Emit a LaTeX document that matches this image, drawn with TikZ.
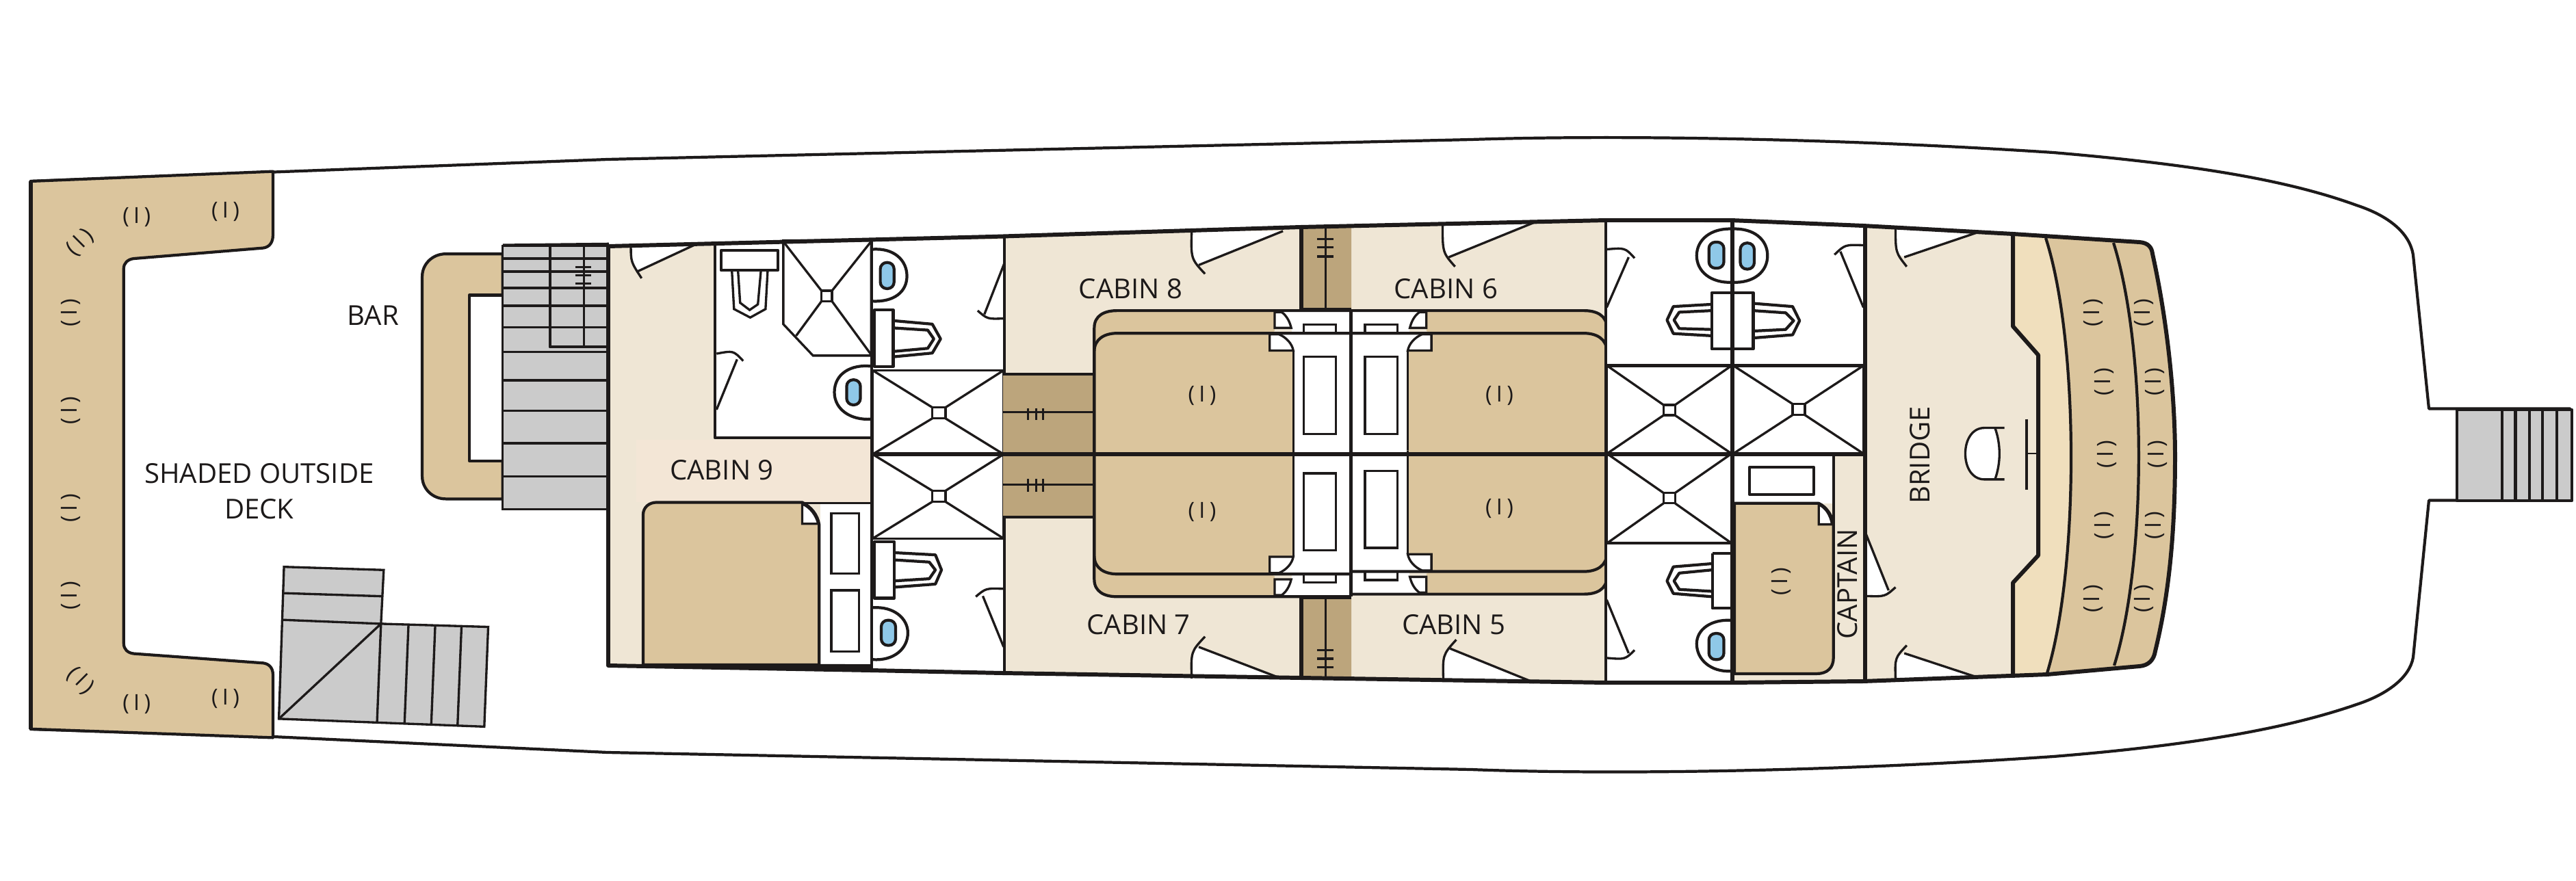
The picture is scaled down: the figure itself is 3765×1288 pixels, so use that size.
\documentclass[tikz,border=0pt]{standalone}
\usepackage{fontspec}
\setmainfont{Open Sans}
\definecolor{decktan}{HTML}{DBC59D}
\definecolor{cream}{HTML}{EFE6D5}
\definecolor{creamb}{HTML}{F3E6D6}
\definecolor{darktan}{HTML}{BCA57C}
\definecolor{stairgray}{HTML}{CBCBCB}
\definecolor{bandlight}{HTML}{F0DFBD}
\definecolor{washblue}{HTML}{8FC8E8}
\definecolor{ink}{HTML}{1D1A1A}
\tikzset{
 fx/.style={draw=ink,line width=.95pt,line join=miter},
 wl/.style={draw=ink,line width=1.2pt,line join=round},
 hv/.style={draw=ink,line width=1.7pt,line join=round},
 z1/.style={x=.005741cm,y=-.005741cm,shift={(0cm,-2cm)}},
 z2/.style={x=.004464cm,y=-.004591cm,shift={(8.5cm,-3cm)}},
 z3/.style={x=.006061cm,y=-.004591cm,shift={(14.5cm,-3cm)}},
 z4/.style={x=.005102cm,y=-.004591cm,shift={(23cm,-3cm)}},
 z5/.style={x=.005198cm,y=-.004591cm,shift={(29.5cm,-3cm)}},
 lab/.style={text=ink,inner sep=0pt,font=\fontsize{11.4}{14.9}\selectfont},
 seatm/.style={text=ink,inner sep=0pt,font=\fontsize{9.2}{9.2}\selectfont},
}
\newcommand\doorw[5]{\fill[white] (#1) .. controls (#2) .. (#4) -- (#5) -- cycle; \draw[fx] (#1) .. controls (#2) .. (#3); \draw[fx] (#4) -- (#5);}
\newcommand\seatat[3]{\node[seatm,rotate=#3] (#1) at (#2) {(\kern1.8pt I\kern1.8pt)};}
\newcommand\showerx[8]{\filldraw[fx,fill=white] (#1,#2) rectangle (#3,#4);
 \draw[fx] (#1,#2) -- (#5,#6) (#3,#2) -- (#7,#6) (#1,#4) -- (#5,#8) (#3,#4) -- (#7,#8);
 \draw[fx] (#5,#6) rectangle (#7,#8);}
\newcommand\bedq{%
 \fill[decktan] (245,792) -- (245,390) .. controls (245,350) and (270,335) .. (300,335) -- (680,335) -- (680,400) -- (668,408) -- (668,462) -- (725,462) -- (725,792) -- cycle;
 \fill[white] (697,338) .. controls (708,350) and (716,368) .. (720,390) -- (722,407) -- (690,408) .. controls (708,420) and (722,440) .. (725,462) -- (725,792) -- (862,792) -- (862,338) -- cycle;
 \draw[fx] (750,380) rectangle (828,407);
 \draw[wl] (245,792) -- (245,390) .. controls (245,350) and (270,335) .. (300,335) -- (862,335);
 \draw[wl] (245,792) -- (245,465) .. controls (245,425) and (270,407) .. (300,407) -- (862,407);
 \filldraw[fx,fill=white] (680,340) -- (697,340) .. controls (708,350) and (716,368) .. (720,390) -- (680,390) -- cycle;
 \filldraw[fx,fill=white] (668,410) -- (690,410) .. controls (708,420) and (722,440) .. (725,462) -- (668,462) -- cycle;
 \draw[fx] (725,462) -- (725,792);
 \draw[fx] (750,482) rectangle (828,727);
}
\begin{document}
\begin{tikzpicture}[x=.01cm,y=-.01cm]
\path[use as bounding box,fill=white] (0,0) rectangle (3765,1288);
% hull
\draw[wl] (45,265) -- (888,233) -- (2150,204) .. controls (2330,198) and (2650,200) .. (3001,223) .. controls (3200,240) and (3340,262) .. (3444,300) .. controls (3490,315) and (3522,340) .. (3527,373) -- (3550,597.5) -- (3756,597.5) -- (3756,731.5) -- (3550,731.5) -- (3527,961) .. controls (3522,990) and (3490,1015) .. (3444,1030) .. controls (3340,1066) and (3200,1090) .. (3001,1106) .. controls (2650,1130) and (2330,1132) .. (2150,1125) -- (888,1100) -- (399,1077) -- (45,1066) -- cycle;
% stern deck, bar, stairs
\begin{scope}[z1]
 \filldraw[wl,fill=decktan] (78,113) -- (695,88) -- (695,250) .. controls (695,270) and (685,281) .. (670,283) -- (340,310) .. controls (325,312) and (315,322) .. (315,335) -- (315,1290) .. controls (315,1305) and (325,1314) .. (340,1316) -- (670,1340) .. controls (685,1342) and (695,1352) .. (695,1370) -- (695,1530) -- (78,1508) -- cycle;
 \draw[hv] (78,113) -- (78,1508);
 \filldraw[wl,fill=decktan] (1280,298) -- (1135,298) .. controls (1100,298) and (1075,325) .. (1075,355) -- (1075,865) .. controls (1075,895) and (1100,922) .. (1135,922) -- (1280,922) -- cycle;
 \filldraw[wl,fill=white] (1280,403) -- (1195,403) -- (1195,825) -- (1280,825) -- cycle;
 \filldraw[fx,fill=stairgray] (1280,278) rectangle (1550,948);
 \foreach \y in {310,343,385,430,485,548,620,697,780,865} \draw[fx] (1280,\y) -- (1550,\y);
 \draw[wl] (1400,278) -- (1400,535) -- (1550,535);
 \draw[fx] (1487,278) -- (1487,535);
 \draw[fx] (1465,332) -- (1505,332) (1465,352) -- (1505,352) (1465,373) -- (1505,373);
 \draw[wl] (1280,276) -- (1550,273);
 \filldraw[fx,fill=stairgray] (723,1095) -- (977,1103) -- (970,1240) -- (1243,1248) -- (1233,1502) -- (710,1482) -- cycle;
 \draw[fx] (722,1162) -- (975,1170) (720,1230) -- (970,1240) -- (710,1482) (970,1240) -- (960,1490) (1040,1243) -- (1030,1493) (1108,1245) -- (1098,1496) (1175,1247) -- (1165,1498);
 \node[lab] (barl) at (950,455) {BAR};
 \node[lab,align=center] (deckl) at (660,902) {SHADED OUTSIDE\\DECK};
 \seatat{sa1}{348,205}{0} \seatat{sa2}{574,190}{0} \seatat{sa3}{205,270}{45}
 \seatat{sa4}{181,448}{90} \seatat{sa5}{181,697}{90} \seatat{sa6}{181,945}{90} \seatat{sa7}{181,1168}{90}
 \seatat{sa8}{205,1385}{-45} \seatat{sa9}{348,1445}{0} \seatat{sa10}{574,1430}{0}
\end{scope}
% forward tan block
\fill[decktan] (2942,342) -- (3127,354) .. controls (3140,355) and (3145,362) .. (3146,371) .. controls (3170,480) and (3179,590) .. (3179,667) .. controls (3179,780) and (3170,870) .. (3150,952) .. controls (3148,965) and (3140,973) .. (3127,974) -- (2942,986) -- cycle;
\fill[bandlight] (2942,342) -- (2990,348) .. controls (3039,500) and (3039,830) .. (2992,984) -- (2942,986) -- cycle;
\fill[cream] (889,360) -- (1450,346) -- (1901,332) -- (2347,322) -- (2530,322) -- (2723,330) -- (2942,342) -- (2942,477) -- (2979,519) -- (2979,812) -- (2942,852) -- (2942,986) -- (2723,996) -- (2530,998) -- (2346,998) -- (1901,991) -- (1465,984) -- (1272,980) -- (889,973) -- cycle;
\draw[wl] (2990,348) .. controls (3039,500) and (3039,830) .. (2992,984);
\draw[wl] (3089,355) .. controls (3138,510) and (3138,820) .. (3090,973);
\draw[hv] (2942,342) -- (2942,477) -- (2979,519) -- (2979,812) -- (2942,852) -- (2942,986);
% cabin 9 + aft baths
\begin{scope}[z2]
 \fill[creamb] (178,745) rectangle (945,945);
 \fill[white] (435,120) -- (945,112) -- (945,740) -- (435,740) -- cycle;
 \draw[wl] (435,122) -- (435,740) -- (945,740);
 \filldraw[fx,fill=white] (658,112) -- (945,112) -- (945,478) -- (755,478) -- (658,378) -- cycle;
 \draw[fx] (658,115) -- (783,272) (945,115) -- (817,272) (945,475) -- (817,305) (700,415) -- (783,305);
 \draw[fx] (783,272) rectangle (817,305);
 \draw[wl] (455,143) rectangle (640,207);
 \draw[fx] (490,207) -- (497,330) -- (550,357) -- (600,330) -- (607,207);
 \draw[fx] (510,207) -- (517,310) -- (548,333) -- (575,315) -- (585,207);
 \doorw{440,472}{495,462}{527,495}{507,490}{440,650}
 \draw[wl] (945,512) .. controls (880,505) and (825,535) .. (825,595) .. controls (825,650) and (880,685) .. (945,680);
 \filldraw[wl,fill=washblue,rounded corners=2.7pt] (865,555) rectangle (910,635);
 \doorw{160,128}{160,180}{195,232}{178,212}{370,125}
 % bed
 \fill[white] (780,948) rectangle (945,1462);
 \filldraw[wl,fill=decktan] (200,1462) -- (200,985) .. controls (200,960) and (220,945) .. (245,945) -- (720,945) .. controls (750,960) and (770,985) .. (775,1015) -- (775,1462) -- cycle;
 \filldraw[fx,fill=white] (720,950) .. controls (745,960) and (765,985) .. (772,1013) -- (720,1013) -- cycle;
 \draw[fx] (720,947) -- (945,947);
 \draw[fx] (815,980) rectangle (905,1172) (815,1225) rectangle (905,1420);
 \fill[ink] (200,1458) -- (948,1460) -- (948,1484) -- (200,1466) -- cycle;
 % baths column
 \fill[white] (950,108) rectangle (1378,525);
 \fill[white] (950,1060) rectangle (1378,1486);
 \draw[wl] (950,140) .. controls (1020,135) and (1062,175) .. (1062,225) .. controls (1062,275) and (1020,308) .. (950,305);
 \filldraw[wl,fill=washblue,rounded corners=2.7pt] (975,182) rectangle (1020,265);
 \draw[wl] (955,333) rectangle (1017,513);
 \draw[wl] (1017,367) -- (1145,378) -- (1172,425) -- (1145,470) -- (1017,482);
 \draw[wl] (1017,390) -- (1130,397) -- (1150,425) -- (1130,455) -- (1017,465);
 \doorw{1378,360}{1325,362}{1293,335}{1315,347}{1380,185}
 \showerx{950}{525}{1378}{792}{1145}{643}{1188}{678}
 \showerx{950}{792}{1378}{1060}{1145}{908}{1188}{943}
 \draw[wl] (955,1070) rectangle (1020,1250);
 \draw[wl] (1020,1105) -- (1155,1112) -- (1175,1160) -- (1155,1205) -- (1020,1215);
 \draw[wl] (1020,1128) -- (1135,1135) -- (1155,1160) -- (1135,1188) -- (1020,1195);
 \draw[wl] (950,1280) .. controls (1020,1275) and (1065,1315) .. (1065,1360) .. controls (1065,1410) and (1020,1450) .. (950,1445);
 \filldraw[wl,fill=washblue,rounded corners=2.7pt] (978,1320) rectangle (1025,1400);
 \doorw{1378,1220}{1320,1218}{1287,1245}{1310,1243}{1378,1405}
 \draw[wl] (947,108) -- (947,1484);
 \draw[wl] (1380,100) -- (1380,1492);
 \draw[hv] (947,792) -- (1380,792);
 \node[lab] (cab9) at (457,843) {CABIN 9};
\end{scope}
% central cabins
\begin{scope}[z3]
 \fill[darktan] (25,537) rectangle (245,790);
 \fill[darktan] (25,795) rectangle (245,992);
 \draw[fx] (25,537) -- (245,537) (25,658) -- (245,658) (25,888) -- (245,888) (25,992) -- (245,992);
 \foreach \x in {85,105,122} \draw[fx] (\x,645) -- (\x,682) (\x,870) -- (\x,912);
 \fill[darktan] (745,72) -- (865,68) -- (865,330) -- (745,330) -- cycle;
 \fill[darktan] (745,1245) -- (865,1245) -- (865,1510) -- (745,1506) -- cycle;
 \draw[hv] (745,72) -- (745,333) -- (865,333);
 \draw[hv] (745,1506) -- (745,1247) -- (865,1247);
 \draw[fx] (803,70) -- (803,333) (803,1247) -- (803,1510);
 \foreach \y in {107,133,163,1415,1442,1470} \draw[fx] (782,\y) -- (822,\y);
 \bedq
 \begin{scope}[cm={1,0,0,-1,(0,1580)}]\bedq\end{scope}
 \begin{scope}[cm={-1,0,0,1,(1726,0)}]\bedq\end{scope}
 \begin{scope}[cm={-1,0,0,-1,(1726,1572)}]\bedq\end{scope}
 \draw[wl] (864,335) -- (864,1245);
 \doorw{480,80}{478,170}{512,218}{497,190}{700,82}
 \doorw{1085,60}{1085,150}{1115,195}{1100,165}{1305,55}
 \doorw{480,1505}{478,1420}{512,1372}{497,1405}{695,1505}
 \doorw{1087,1515}{1085,1430}{1118,1382}{1103,1410}{1305,1518}
 \draw[hv] (25,792) -- (1480,792);
 \node[lab] (cab8) at (333,265) {CABIN 8};
 \node[lab] (cab6) at (1093,265) {CABIN 6};
 \node[lab] (cab7) at (352,1335) {CABIN 7};
 \node[lab] (cab5) at (1112,1335) {CABIN 5};
 \seatat{sb1}{505,605}{0} \seatat{sb2}{1222,605}{0} \seatat{sb3}{505,975}{0} \seatat{sb4}{1222,965}{0}
\end{scope}
% forward baths, captain, bridge
\begin{scope}[z4]
 \fill[white] (90,50) -- (830,62) -- (830,790) -- (90,790) -- cycle;
 \fill[white] (90,790) rectangle (453,1520);
 \draw[wl] (452,75) .. controls (390,72) and (350,110) .. (350,160) .. controls (350,210) and (390,248) .. (452,245) .. controls (515,248) and (553,210) .. (553,160) .. controls (553,110) and (515,72) .. (452,75);
 \filldraw[wl,fill=washblue,rounded corners=2.7pt] (385,117) rectangle (428,200);
 \filldraw[wl,fill=washblue,rounded corners=2.7pt] (475,120) rectangle (515,203);
 \draw[wl] (393,278) rectangle (512,457);
 \draw[wl] (393,315) -- (283,322) -- (265,365) -- (283,408) -- (393,415);
 \draw[wl] (393,335) -- (300,340) -- (285,365) -- (300,392) -- (393,395);
 \draw[wl] (512,312) -- (625,322) -- (645,367) -- (625,412) -- (512,422);
 \draw[wl] (512,335) -- (605,342) -- (628,367) -- (605,395) -- (512,400);
 \doorw{92,140}{145,135}{172,168}{155,165}{92,325}
 \doorw{828,127}{775,125}{745,157}{762,147}{828,325}
 \showerx{93}{510}{450}{790}{255}{635}{288}{668}
 \showerx{455}{510}{828}{790}{625}{632}{660}{667}
 \showerx{93}{790}{450}{1075}{255}{915}{288}{948}
 \draw[wl] (395,1108) -- (448,1108) (395,1108) -- (395,1282) -- (448,1282);
 \draw[wl] (393,1140) -- (283,1150) -- (265,1195) -- (283,1235) -- (393,1245);
 \draw[wl] (393,1160) -- (300,1170) -- (285,1195) -- (300,1222) -- (393,1228);
 \draw[wl] (448,1320) .. controls (390,1317) and (350,1350) .. (350,1395) .. controls (350,1445) and (390,1485) .. (448,1482);
 \filldraw[wl,fill=washblue,rounded corners=2.7pt] (385,1362) rectangle (428,1445);
 \doorw{92,1440}{145,1445}{172,1415}{155,1425}{92,1255}
 % captain
 \fill[white] (458,797) rectangle (742,948);
 \draw[wl] (502,833) rectangle (685,920);
 \filldraw[wl,fill=decktan] (458,948) -- (700,948) .. controls (722,960) and (738,985) .. (742,1015) -- (742,1440) .. controls (742,1470) and (725,1490) .. (695,1490) -- (458,1490) -- cycle;
 \filldraw[fx,fill=white] (700,952) .. controls (720,962) and (733,985) .. (738,1015) -- (700,1015) -- cycle;
 \draw[wl] (742,795) -- (742,1015);
 \seatat{sc1}{592,1197}{90}
 \node[lab,rotate=90] (capt) at (782,1205) {CAPTAIN};
 % bridge
 \doorw{920,72}{920,150}{952,195}{945,165}{1150,88}
 \doorw{920,1508}{918,1440}{952,1400}{945,1425}{1150,1500}
 \doorw{835,1243}{890,1245}{920,1215}{900,1225}{835,1045}
 \filldraw[fx,fill=white] (1232,708) -- (1175,708) .. controls (1140,708) and (1120,745) .. (1120,790) .. controls (1120,835) and (1140,872) .. (1175,872) -- (1232,872) -- (1205,872) .. controls (1222,820) and (1222,760) .. (1205,708) -- cycle;
 \draw[wl] (1295,680) -- (1295,905);
 \draw[fx,line width=.5pt] (1295,790) -- (1330,790);
 \node[lab,rotate=90] (brdg) at (990,795) {BRIDGE};
 \draw[wl] (90,50) -- (90,1520);
 \draw[wl] (93,510) -- (828,510) (93,1075) -- (450,1075);
 \draw[hv] (453,48) -- (453,1520);
 \draw[hv] (832,65) -- (832,1515);
 \draw[hv] (90,792) -- (832,792);
\end{scope}
\begin{scope}[z5]
 \foreach \n/\x/\y in {1/207/342,2/237/562,3/245/792,4/237/1018,5/207/1252,6/350/342,7/380/562,8/388/792,9/380/1018,10/350/1252}
  {\seatat{sd\n}{\x,\y}{90}}
 % stern-facing stair
 \filldraw[wl,fill=stairgray] (1228,650) rectangle (1550,940);
 \foreach \x in {1355,1392,1432,1468,1508} \draw[wl] (\x,650) -- (\x,940);
\end{scope}
% block outline
\draw[hv] (889,360) -- (1450,346) -- (1901,332) -- (2347,322) -- (2530,322) -- (2723,330) -- (2942,342) -- (3127,354) .. controls (3140,355) and (3145,362) .. (3146,371) .. controls (3170,480) and (3179,590) .. (3179,667) .. controls (3179,780) and (3170,870) .. (3150,952) .. controls (3148,965) and (3140,973) .. (3127,974) -- (2992,986) -- (2723,996) -- (2530,998) -- (2346,998) -- (1901,991) -- (1465,984) -- (1272,980) -- (889,973) -- cycle;
\end{tikzpicture}
\end{document}
